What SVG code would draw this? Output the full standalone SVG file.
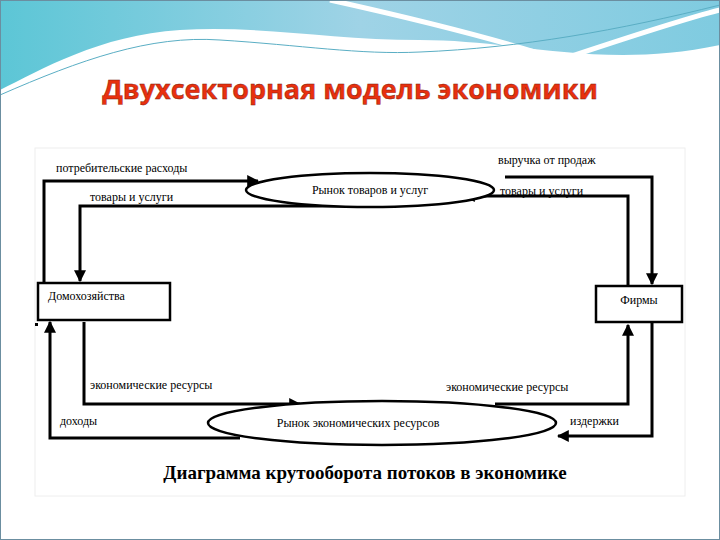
<svg xmlns="http://www.w3.org/2000/svg" width="720" height="540" viewBox="0 0 720 540">
<defs>
<linearGradient id="wave" x1="0" y1="0" x2="1" y2="0"><stop offset="0" stop-color="#5cc6d6"/><stop offset="0.5" stop-color="#9fd3e6"/><stop offset="1" stop-color="#7fcbe0"/></linearGradient>
<marker id="ah" viewBox="0 0 10 10" refX="9" refY="5" markerWidth="4" markerHeight="4" orient="auto"><path d="M0,0 L10,5 L0,10 z" fill="#000"/></marker>
</defs>
<style>
.ln{fill:none;stroke:#000;stroke-width:3;marker-end:url(#ah)}
.lb{font-family:"Liberation Serif",serif;font-size:12px;fill:#000}
.bx{fill:#fff;stroke:#000;stroke-width:2.5}
</style>
<rect width="720" height="540" fill="#fff"/>
<path d="M0,0 H720 V45 C600,70 520,40 420,40 C330,40 260,25 180,30 C100,35 40,70 0,90 Z" fill="url(#wave)"/>
<path d="M330,0 C420,20 500,40 560,60 C620,40 680,20 720,10" fill="none" stroke="#fff" stroke-width="5"/>
<path d="M0,95 C80,60 150,35 220,40 C300,45 360,55 420,52 C520,48 620,30 720,5" fill="none" stroke="#5aaec4" stroke-width="1"/>
<rect x="0.5" y="0.5" width="719" height="539" fill="none" stroke="#6b8ea0"/>
<text x="350" y="99" text-anchor="middle" font-family="Open Sans,sans-serif" font-weight="bold" font-size="27" fill="#e8300e" stroke="#7a1a0a" stroke-width="0.4">Двухсекторная модель экономики</text>
<rect x="35" y="148" width="650" height="348" fill="#fff" stroke="#eee"/>
<g id="connectors">
<path class="ln" d="M44,283 V181 H258"/>
<path class="ln" d="M372,206 H80 V281"/>
<path class="ln" d="M505,177 H652 V284"/>
<path class="ln" d="M628,286 V196 H464"/>
<path class="ln" d="M240,438 H50 V322"/>
<path class="ln" d="M84,322 V404 H300"/>
<path class="ln" d="M495,404 H628 V325"/>
<path class="ln" d="M652,322 V436 H558"/>
</g>
<g id="market-goods"><ellipse cx="370" cy="190" rx="124" ry="17" class="bx"/><text x="370" y="194" text-anchor="middle" class="lb">Рынок товаров и услуг</text></g>
<g id="market-resources"><ellipse cx="382" cy="423" rx="174" ry="22" class="bx"/><text x="358" y="427" text-anchor="middle" class="lb">Рынок экономических ресурсов</text></g>
<g id="households"><rect x="38" y="283" width="132" height="37" class="bx"/><text x="48" y="300" class="lb">Домохозяйства</text></g>
<g id="firms"><rect x="596" y="286" width="86" height="36" class="bx"/><text x="639" y="304" text-anchor="middle" class="lb">Фирмы</text></g>
<rect x="35" y="323" width="3" height="3" fill="#000"/>
<text x="56" y="172" class="lb">потребительские расходы</text>
<text x="90" y="201" class="lb">товары и услуги</text>
<text x="498" y="164" class="lb">выручка от продаж</text>
<text x="500" y="195" class="lb">товары и услуги</text>
<text x="90" y="389" class="lb">экономические ресурсы</text>
<text x="60" y="425" class="lb">доходы</text>
<text x="446" y="391" class="lb">экономические ресурсы</text>
<text x="570" y="425" class="lb">издержки</text>
<text x="365" y="479" text-anchor="middle" font-family="Liberation Serif,serif" font-weight="bold" font-size="19">Диаграмма крутооборота потоков в экономике</text>
</svg>
